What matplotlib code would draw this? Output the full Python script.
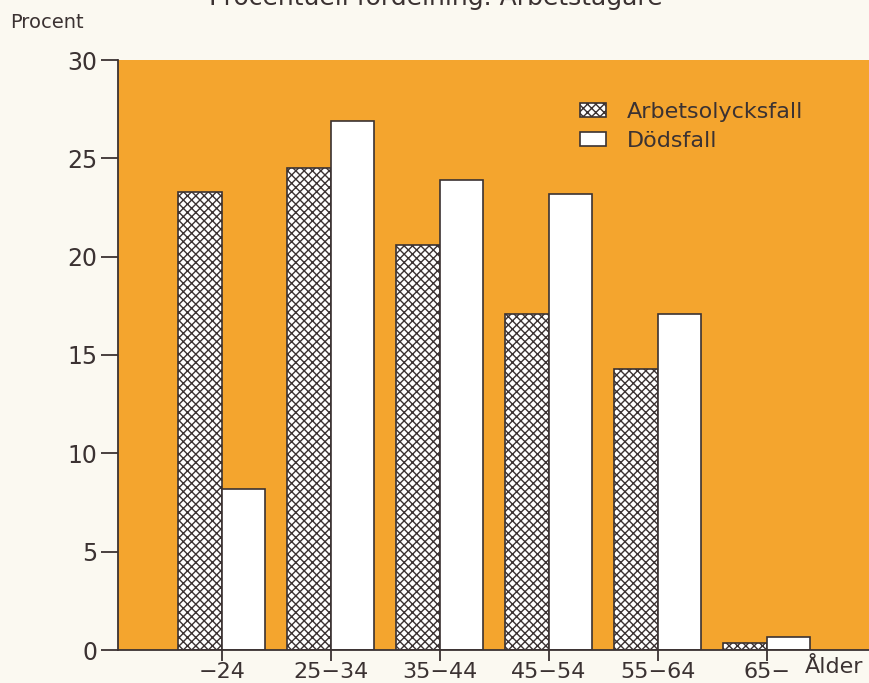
import matplotlib.pyplot as plt
import numpy as np

# age groups and shares (percent)
age_groups = ['\u221224', '25\u221234', '35\u221244', '45\u221254', '55\u221264', '65\u2212']
arbetsolycksfall = [23.3, 24.5, 20.6, 17.1, 14.3, 0.35]
dodsfall = [8.2, 26.9, 23.9, 23.2, 17.1, 0.65]

orange = '#F4A52E'
ink = '#3b3232'
paper = '#FBF9F1'

plt.rcParams['hatch.linewidth'] = 1.0
plt.rcParams['font.family'] = ['DejaVu Sans']

fig = plt.figure(figsize=(8.69, 6.83), dpi=100, facecolor=paper)
ax = fig.add_axes([118 / 869, 1 - 650 / 683, 1 - 118 / 869, (650 - 60) / 683])
ax.set_facecolor(orange)

x = np.arange(len(age_groups))
w = 0.4
b1 = ax.bar(x - w / 2, arbetsolycksfall, w, color='white', edgecolor=ink,
            hatch='xxxx', linewidth=1.2, label='Arbetsolycksfall')
b2 = ax.bar(x + w / 2, dodsfall, w, color='white', edgecolor=ink,
            linewidth=1.2, label='Dödsfall')

ax.set_xlim(-0.954, 5.94)
ax.set_ylim(0, 30)
ax.set_yticks(range(0, 31, 5))
ax.set_xticks(x)
ax.set_xticklabels(age_groups)

for s in ['top', 'right']:
    ax.spines[s].set_visible(False)
for s in ['left', 'bottom']:
    ax.spines[s].set_color(ink)
    ax.spines[s].set_linewidth(1.3)

ax.tick_params(axis='y', length=12, width=1.3, color=ink, labelcolor=ink,
               labelsize=17, pad=3)
ax.tick_params(axis='x', length=8, width=1.3, color=ink, labelcolor=ink,
               labelsize=16, pad=1)

fig.text(10 / 869, 1 - 22 / 683, 'Procent', fontsize=14, color=ink,
         va='center', ha='left')
fig.text(805 / 869, 1 - 667 / 683, 'Ålder', fontsize=16, color=ink,
         va='center', ha='left')
# title is cut off at the top edge, as in the scan
fig.text(436 / 869, 1 - 5 / 683, 'Procentuell fördelning. Arbetstagare',
         fontsize=18, color=ink, va='baseline', ha='center')

ax.legend(loc='upper left', bbox_to_anchor=(569 / 869, 1 - 91 / 683),
          bbox_transform=fig.transFigure, frameon=False, fontsize=16,
          labelcolor=ink, handlelength=1.15, handleheight=0.6,
          borderpad=0, labelspacing=0.4, handletextpad=0.95)

fig.savefig('out.png', dpi=100, facecolor=paper)
